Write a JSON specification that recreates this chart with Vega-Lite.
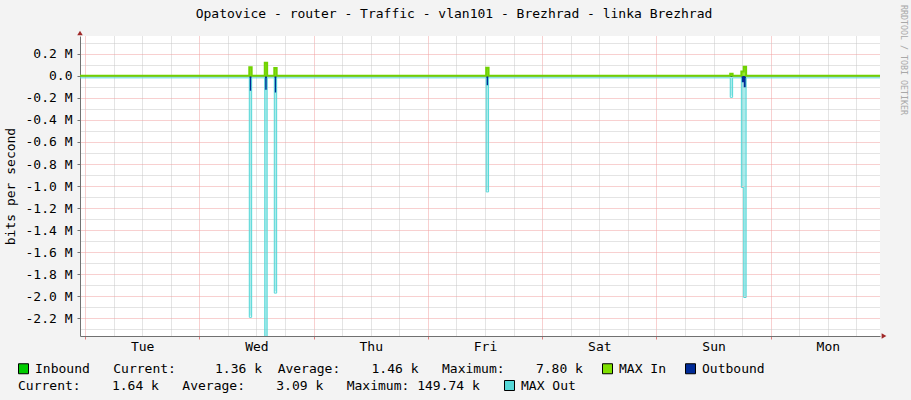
{
  "$schema": "https://vega.github.io/schema/vega-lite/v6.json",
  "width": 800,
  "height": 300,
  "autosize": {"type": "none"},
  "padding": {"left": 80, "top": 36, "right": 31, "bottom": 64},
  "background": "#F3F3F3",
  "title": {
    "text": "Opatovice - router - Traffic - vlan101 - Brezhrad - linka Brezhrad",
    "font": "DejaVu Sans Mono",
    "fontSize": 13,
    "fontWeight": "normal",
    "color": "black",
    "dx": -26,
    "offset": -16
  },
  "data": {
    "values": [
      {"t": "2023-01-02T22:00:00Z", "inbound": 1360, "maxin": 1500, "outbound": -1640, "maxout": -3090},
      {"t": "2023-01-04T10:30:00Z", "inbound": 3000, "maxin": 80000, "outbound": -133000, "maxout": -2180000},
      {"t": "2023-01-04T11:00:00Z", "inbound": 1360, "maxin": 1500, "outbound": -1640, "maxout": -3090},
      {"t": "2023-01-04T13:45:00Z", "inbound": 7800, "maxin": 120000, "outbound": -126000, "maxout": -2450000},
      {"t": "2023-01-04T14:15:00Z", "inbound": 1360, "maxin": 1500, "outbound": -1640, "maxout": -3090},
      {"t": "2023-01-04T15:45:00Z", "inbound": 2500, "maxin": 73000, "outbound": -149740, "maxout": -1960000},
      {"t": "2023-01-04T16:15:00Z", "inbound": 1360, "maxin": 1500, "outbound": -1640, "maxout": -3090},
      {"t": "2023-01-06T12:15:00Z", "inbound": 2600, "maxin": 76000, "outbound": -84000, "maxout": -1040000},
      {"t": "2023-01-06T12:45:00Z", "inbound": 1360, "maxin": 1500, "outbound": -1640, "maxout": -3090},
      {"t": "2023-01-08T15:30:00Z", "inbound": 1500, "maxin": 20000, "outbound": -8000, "maxout": -180000},
      {"t": "2023-01-08T16:00:00Z", "inbound": 1360, "maxin": 1500, "outbound": -1640, "maxout": -3090},
      {"t": "2023-01-08T17:50:00Z", "inbound": 2000, "maxin": 40000, "outbound": -56000, "maxout": -1000000},
      {"t": "2023-01-08T18:20:00Z", "inbound": 2800, "maxin": 85000, "outbound": -102000, "maxout": -2000000},
      {"t": "2023-01-08T18:50:00Z", "inbound": 1360, "maxin": 1500, "outbound": -1640, "maxout": -3090},
      {"t": "2023-01-10T00:00:00Z", "inbound": 1360, "maxin": 1500, "outbound": -1640, "maxout": -3090}
    ]
  },
  "resolve": {"axis": {"x": "independent", "y": "independent"}},
  "layer": [
    {
      "mark": {"type": "area", "interpolate": "step-after", "fillOpacity": 0.5, "clip": true},
      "encoding": {
        "x": {
          "field": "t", "type": "temporal",
          "scale": {"type": "utc", "domain": [1672700220000, 1673305020000]},
          "axis": {
            "orient": "bottom",
            "values": [
              1672725600000, 1672747200000, 1672768800000,
              1672812000000, 1672833600000, 1672855200000,
              1672898400000, 1672920000000, 1672941600000,
              1672984800000, 1673006400000, 1673028000000,
              1673071200000, 1673092800000, 1673114400000,
              1673157600000, 1673179200000, 1673200800000,
              1673244000000, 1673265600000, 1673287200000
            ],
            "grid": true, "gridColor": "#C8C8C8", "gridDash": [1, 1],
            "labels": false, "ticks": false, "domain": false, "title": null
          }
        },
        "y": {
          "field": "maxout", "type": "quantitative", "stack": null,
          "scale": {"domain": [-2363636, 363636], "nice": false, "zero": false},
          "axis": {
            "orient": "left",
            "values": [-2300000, -2100000, -1900000, -1700000, -1500000, -1300000, -1100000, -900000, -700000, -500000, -300000, -100000, 100000, 300000],
            "grid": true, "gridColor": "#C8C8C8", "gridDash": [1, 1],
            "labels": false, "ticks": false, "domain": false, "title": null
          }
        },
        "fill": {
          "datum": "MAX Out",
          "scale": {"range": ["#55D7D7"]},
          "legend": {
            "orient": "none", "legendX": -62, "legendY": 343,
            "direction": "horizontal",
            "title": "Current:\u00a0\u00a0\u00a0\u00a01.64\u00a0k\u00a0\u00a0\u00a0Average:\u00a0\u00a0\u00a0\u00a03.09\u00a0k\u00a0\u00a0\u00a0Maximum:\u00a0149.74\u00a0k",
            "titleOrient": "left", "titlePadding": 23, "symbolOpacity": 1
          }
        }
      }
    },
    {
      "mark": {"type": "area", "interpolate": "step-after", "clip": true},
      "encoding": {
        "x": {
          "field": "t", "type": "temporal",
          "axis": {
            "orient": "bottom",
            "values": [1672704000000, 1672790400000, 1672876800000, 1672963200000, 1673049600000, 1673136000000, 1673222400000],
            "grid": true, "gridColor": "#F0A0A0", "gridDash": [1, 1],
            "labels": false, "ticks": true, "tickColor": "#E08080", "tickSize": 3,
            "domain": true, "domainColor": "#707070", "title": null
          }
        },
        "y": {
          "field": "outbound", "type": "quantitative", "stack": null,
          "axis": {
            "orient": "left",
            "values": [-2200000, -2000000, -1800000, -1600000, -1400000, -1200000, -1000000, -800000, -600000, -400000, -200000, 0, 200000],
            "grid": true, "gridColor": "#F0A0A0", "gridDash": [1, 1],
            "labelExpr": "datum.value == 0 ? '0.0' : (datum.value < 0 ? '-' : '') + format(abs(datum.value) / 1000000, '.1f') + ' M'",
            "tickSize": 3, "tickColor": "#707070", "domainColor": "#707070",
            "labelPadding": 5, "title": "bits per second", "titlePadding": 8
          }
        },
        "color": {
          "datum": "Outbound",
          "scale": {"domain": ["Inbound", "MAX In", "Outbound"], "range": ["#00CC00", "#7FE000", "#002A97"]},
          "legend": {
            "orient": "none", "legendX": -63, "legendY": 326,
            "direction": "horizontal", "title": null,
            "labelExpr": "datum.label == 'Inbound' ? 'Inbound\u00a0\u00a0\u00a0Current:\u00a0\u00a0\u00a0\u00a0\u00a01.36\u00a0k\u00a0\u00a0Average:\u00a0\u00a0\u00a0\u00a01.46\u00a0k\u00a0\u00a0\u00a0Maximum:\u00a0\u00a0\u00a0\u00a07.80\u00a0k' : datum.label"
          }
        }
      }
    },
    {
      "mark": {"type": "line", "interpolate": "step-after", "color": "#55D7D7", "strokeWidth": 1, "yOffset": 1.5, "clip": true},
      "encoding": {
        "x": {"field": "t", "type": "temporal", "axis": null},
        "y": {"field": "maxout", "type": "quantitative", "axis": null}
      }
    },
    {
      "mark": {"type": "area", "interpolate": "step-after", "clip": true},
      "encoding": {
        "x": {
          "field": "t", "type": "temporal",
          "axis": {
            "orient": "bottom",
            "values": [1672747200000, 1672833600000, 1672920000000, 1673006400000, 1673092800000, 1673179200000, 1673265600000],
            "labelExpr": "utcFormat(datum.value, '%a')",
            "grid": false, "ticks": false, "domain": false,
            "labelPadding": 4, "title": null
          }
        },
        "y": {"field": "inbound", "type": "quantitative", "stack": null, "axis": null},
        "color": {"datum": "Inbound"}
      }
    },
    {
      "mark": {"type": "area", "interpolate": "step-after", "fillOpacity": 0.8, "clip": true},
      "encoding": {
        "x": {"field": "t", "type": "temporal", "axis": null},
        "y": {"field": "maxin", "type": "quantitative", "stack": null, "axis": null},
        "color": {"datum": "MAX In"}
      }
    },
    {
      "mark": {"type": "line", "interpolate": "step-after", "color": "#70D200", "strokeWidth": 2, "clip": true},
      "encoding": {
        "x": {"field": "t", "type": "temporal", "axis": null},
        "y": {"field": "maxin", "type": "quantitative", "axis": null}
      }
    },
    {
      "data": {"values": [{"arrow": "y"}]},
      "mark": {"type": "point", "shape": "triangle-up", "filled": true, "size": 30, "color": "#A02828", "opacity": 1, "yOffset": -3},
      "encoding": {
        "x": {"datum": 1672700220000, "type": "temporal", "axis": null},
        "y": {"datum": 363636, "type": "quantitative", "axis": null}
      }
    },
    {
      "data": {"values": [{"arrow": "x"}]},
      "mark": {"type": "point", "shape": "triangle-right", "filled": true, "size": 30, "color": "#A02828", "opacity": 1, "xOffset": 4},
      "encoding": {
        "x": {"datum": 1673305020000, "type": "temporal", "axis": null},
        "y": {"datum": -2363636, "type": "quantitative", "axis": null}
      }
    },
    {
      "data": {"values": [{"w": "RRDTOOL / TOBI OETIKER"}]},
      "mark": {"type": "text", "angle": 90, "align": "left", "baseline": "middle", "font": "DejaVu Sans Mono", "fontSize": 8.3, "color": "#A8A8A8", "xOffset": 22.5, "yOffset": -31},
      "encoding": {
        "x": {"datum": 1673305020000, "type": "temporal", "axis": null},
        "y": {"datum": 363636, "type": "quantitative", "axis": null},
        "text": {"field": "w"}
      }
    }
  ],
  "config": {
    "font": "DejaVu Sans Mono",
    "view": {"stroke": null, "fill": "white"},
    "axis": {
      "labelFont": "DejaVu Sans Mono", "labelFontSize": 13, "labelColor": "black",
      "titleFont": "DejaVu Sans Mono", "titleFontSize": 13, "titleFontWeight": "normal", "titleColor": "black"
    },
    "legend": {
      "labelFont": "DejaVu Sans Mono", "labelFontSize": 13, "labelColor": "black", "labelLimit": 0,
      "titleFont": "DejaVu Sans Mono", "titleFontSize": 13, "titleFontWeight": "normal", "titleColor": "black", "titleLimit": 0,
      "symbolType": "square", "symbolSize": 100, "symbolStrokeColor": "black", "symbolStrokeWidth": 1,
      "padding": 0, "labelOffset": 5, "columnPadding": 17
    }
  }
}
